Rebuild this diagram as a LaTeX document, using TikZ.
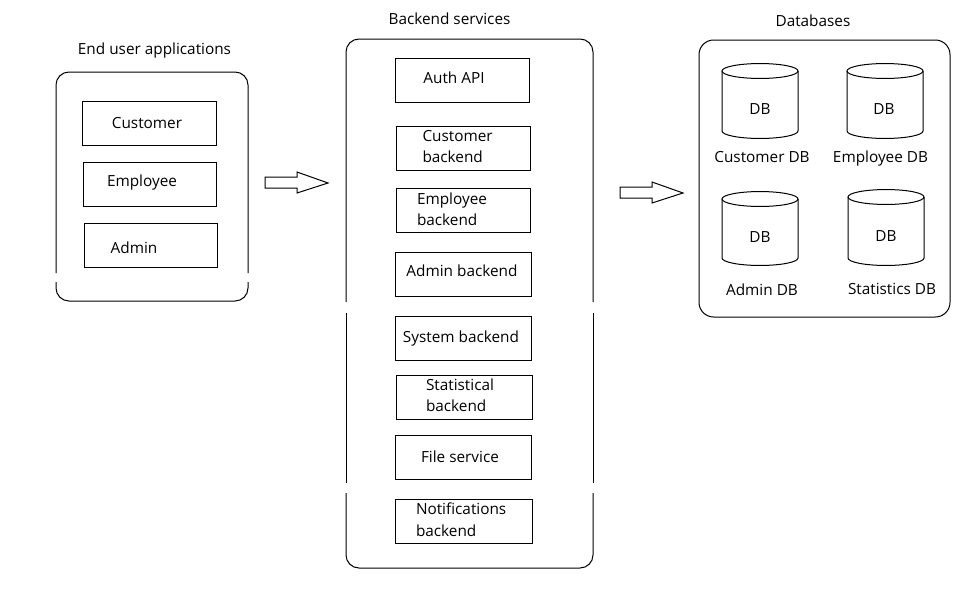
\documentclass[tikz,border=0pt]{standalone}
\usepackage{fontspec}
\setmainfont{Open Sans}
\begin{document}
\begin{tikzpicture}[x=0.75pt,y=-0.75pt,
  line width=0.75pt,
  txt/.style={inner sep=0pt,anchor=base,font=\fontsize{11.5}{15.75}\selectfont},
  ltxt/.style={txt,align=left,anchor=base west},
  box/.style={draw,rectangle,inner sep=0pt}]
\useasboundingbox (0,0) rectangle (971,600);

% ---------- titles
\node[txt] (t1) at (154.5,54.5) {End user applications};
\node[txt] (t2) at (449.5,24.5) {Backend services};
\node[txt] (t3) at (813,26.5) {Databases};

% ---------- left container (with small gaps in the sides)
\draw[rounded corners=9.75pt] (56,273) -- (56,72) -- (248,72) -- (248,273);
\draw[rounded corners=9.75pt] (56,282) -- (56,301) -- (248,301) -- (248,282);

\node[box,minimum width=100.5pt,minimum height=33pt] (cust) at (149,123) {};
\node[txt] (custt) at (147,128.5) {Customer};
\node[box,minimum width=99.75pt,minimum height=33pt] (emp) at (149.5,184) {};
\node[txt] (empt) at (142,186.5) {Employee};
\node[box,minimum width=99.75pt,minimum height=33pt] (adm) at (150.5,245) {};
\node[txt] (admt) at (134,253.5) {Admin};

% ---------- block arrows
\draw (265,177) -- (297,177) -- (297,172) -- (328,183) -- (297,193) -- (297,188) -- (265,188) -- cycle;
\draw (620,187) -- (652,187) -- (652,182) -- (683,193) -- (652,203) -- (652,198) -- (620,198) -- cycle;

% ---------- backend container
\draw[rounded corners=9.75pt] (346,302) -- (346,39) -- (593,39) -- (593,302);
\draw (346,313) -- (346,483);
\draw (593,313) -- (593,483);
\draw[rounded corners=9.75pt] (346,493) -- (346,568) -- (593,568) -- (593,493);

\node[box,minimum width=100.5pt,minimum height=33pt] (auth) at (462,80) {};
\node[txt] (autht) at (454,83.5) {Auth API};

\node[box,minimum width=100.5pt,minimum height=33pt] (cb) at (463,148) {};
\node[ltxt] (cbt1) at (422,141.5) {Customer};
\node[ltxt] (cbt2) at (422,162.5) {backend};

\node[box,minimum width=100.5pt,minimum height=33pt] (eb) at (463,210) {};
\node[ltxt] (ebt1) at (416.5,204.5) {Employee};
\node[ltxt] (ebt2) at (416.5,225.5) {backend};

\node[box,minimum width=102pt,minimum height=33pt] (ab) at (463,274) {};
\node[txt] (abt) at (462,276.5) {Admin backend};

\node[box,minimum width=102pt,minimum height=33pt] (sb) at (463,338) {};
\node[txt] (sbt) at (461,342.5) {System backend};

\node[box,minimum width=102pt,minimum height=33pt] (stb) at (464,397) {};
\node[ltxt] (stbt1) at (425.5,390.5) {Statistical};
\node[ltxt] (stbt2) at (425.5,411.5) {backend};

\node[box,minimum width=102pt,minimum height=33pt] (fs) at (463,457) {};
\node[txt] (fst) at (460,462.5) {File service};

\node[box,minimum width=102.75pt,minimum height=33pt] (nb) at (463.5,521) {};
\node[ltxt] (nbt1) at (415.5,514.5) {Notifications};
\node[ltxt] (nbt2) at (415.5,536.5) {backend};

% ---------- databases container
\draw[rounded corners=11pt] (699,40) rectangle (950,317);

% cylinders: top centre y, bottom centre y
\foreach \cx/\yt/\yb in {760/71/131, 885/71/131, 760/199/258, 886/197/258}{
  \draw (\cx,\yt) ellipse [x radius=28.5pt, y radius=5.6pt];
  \draw (\cx-38,\yt) -- (\cx-38,\yb) arc[start angle=180, end angle=360, x radius=28.5pt, y radius=5.6pt] -- (\cx+38,\yt);
}
\node[txt] (db1) at (760,114.5) {DB};
\node[txt] (db2) at (884,114.5) {DB};
\node[txt] (db3) at (760,242.5) {DB};
\node[txt] (db4) at (886,241.5) {DB};

\node[txt] (l1) at (762,162.5) {Customer DB};
\node[txt] (l2) at (880.5,162.5) {Employee DB};
\node[txt] (l3) at (762,295.5) {Admin DB};
\node[txt] (l4) at (892,294.5) {Statistics DB};
\end{tikzpicture}
\end{document}
